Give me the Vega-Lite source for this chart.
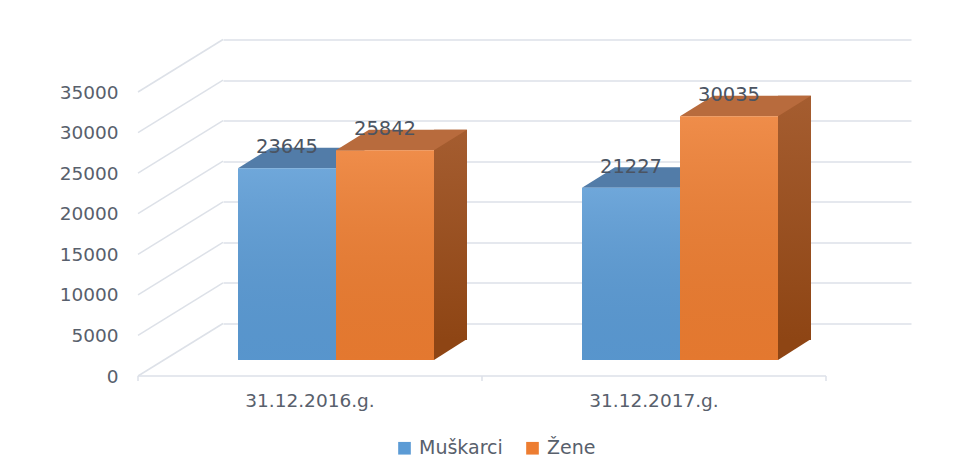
{
  "$schema": "https://vega.github.io/schema/vega-lite/v6.json",
  "width": 688,
  "height": 284,
  "autosize": {"type": "none"},
  "padding": {"left": 223, "top": 39.5, "right": 49, "bottom": 151.5},
  "background": "white",
  "config": {"view": {"stroke": null}, "font": "DejaVu Sans"},
  "datasets": {
    "bars": [
      {"period": "31.12.2016.g.", "spol": "Muškarci", "broj": 23645},
      {"period": "31.12.2016.g.", "spol": "Žene", "broj": 25842},
      {"period": "31.12.2017.g.", "spol": "Muškarci", "broj": 21227},
      {"period": "31.12.2017.g.", "spol": "Žene", "broj": 30035}
    ],
    "grid": [
      {"broj": 0}, {"broj": 5000}, {"broj": 10000}, {"broj": 15000},
      {"broj": 20000}, {"broj": 25000}, {"broj": 30000}, {"broj": 35000}
    ],
    "cats": [{"period": "31.12.2016.g."}, {"period": "31.12.2017.g."}],
    "one": [{"k": 1}]
  },
  "data": {"name": "bars"},
  "layer": [
    {
      "data": {"name": "grid"},
      "mark": {"type": "point", "shape": "M0,0L-1.7,1.05", "size": 10000, "filled": false, "stroke": "#dde1e8", "strokeWidth": 1.5, "opacity": 1},
      "encoding": {
        "x": {
          "datum": "31.12.2016.g.", "type": "nominal", "bandPosition": 0,
          "scale": {"type": "band", "domain": ["31.12.2016.g.", "31.12.2017.g."], "paddingInner": 0, "paddingOuter": 0},
          "axis": {"title": null, "domain": false, "ticks": false, "tickSize": 0, "grid": false, "labelOffset": -85, "labelPadding": 68, "labelFontSize": 18.5, "labelColor": "#58606c", "labelAngle": 0, "labelBaseline": "top", "labelFont": "DejaVu Sans"}
        },
        "y": {
          "field": "broj", "type": "quantitative",
          "scale": {"domain": [0, 35000], "nice": false},
          "axis": {"title": null, "values": [0, 5000, 10000, 15000, 20000, 25000, 30000, 35000], "grid": true, "gridColor": "#dde1e8", "gridWidth": 1.5, "domain": false, "ticks": false, "tickSize": 0, "labelPadding": 105, "labelOffset": 52.5, "labelFontSize": 18.5, "labelColor": "#58606c", "labelFont": "DejaVu Sans", "labelBaseline": "middle", "format": "d"}
        }
      }
    },
    {
      "data": {"name": "one"},
      "mark": {"type": "rule", "color": "#dde1e8", "strokeWidth": 1.5, "xOffset": -85, "x2Offset": -85, "yOffset": 52.5},
      "encoding": {
        "x": {"datum": "31.12.2016.g.", "type": "nominal", "bandPosition": 0},
        "x2": {"datum": "31.12.2017.g.", "bandPosition": 1},
        "y": {"datum": 0, "type": "quantitative"}
      }
    },
    {
      "data": {"name": "cats"},
      "mark": {"type": "rule", "color": "#dde1e8", "strokeWidth": 1.5, "xOffset": -85, "yOffset": 52.5, "y2Offset": 57.5},
      "encoding": {
        "x": {"field": "period", "type": "nominal", "bandPosition": 0},
        "y": {"datum": 0, "type": "quantitative"},
        "y2": {"datum": 0}
      }
    },
    {
      "data": {"name": "one"},
      "mark": {"type": "rule", "color": "#dde1e8", "strokeWidth": 1.5, "xOffset": -85, "yOffset": 52.5, "y2Offset": 57.5},
      "encoding": {
        "x": {"datum": "31.12.2017.g.", "type": "nominal", "bandPosition": 1},
        "y": {"datum": 0, "type": "quantitative"},
        "y2": {"datum": 0}
      }
    },
    {
      "transform": [{"filter": "datum.spol === 'Muškarci'"}],
      "layer": [
        {
          "mark": {"type": "point", "shape": "M-0.98,0L0.98,0L1.64,-0.41L-0.32,-0.41Z", "size": 10000, "filled": true, "opacity": 1, "color": "#527ca8", "strokeWidth": 0, "xOffset": -108, "yOffset": 36.5},
          "encoding": {
            "x": {"field": "period", "type": "nominal"},
            "y": {"field": "broj", "type": "quantitative"}
          }
        },
        {
          "mark": {"type": "bar", "width": 98, "xOffset": -108, "yOffset": 36.5, "y2Offset": 36.5, "opacity": 1},
          "encoding": {
            "x": {"field": "period", "type": "nominal"},
            "y": {"field": "broj", "type": "quantitative"},
            "y2": {"datum": 0},
            "color": {
              "field": "spol", "type": "nominal",
              "scale": {"domain": ["Muškarci", "Žene"], "range": ["#5b9bd5", "#ed7d31"]},
              "legend": {"orient": "none", "legendX": 172, "legendY": 399, "direction": "horizontal", "title": null, "symbolType": "square", "symbolSize": 160, "symbolStrokeWidth": 0, "symbolOpacity": 1, "labelFontSize": 19, "labelColor": "#58606c", "labelFont": "DejaVu Sans", "columnPadding": 20, "labelOffset": 5, "padding": 0}
            }
          }
        },
        {
          "mark": {"type": "bar", "width": 98, "xOffset": -108, "yOffset": 36.5, "y2Offset": 36.5,
            "color": {"gradient": "linear", "x1": 0, "y1": 0, "x2": 0, "y2": 1, "stops": [{"offset": 0, "color": "rgba(255,255,255,0.12)"}, {"offset": 1, "color": "rgba(0,0,0,0.04)"}]}},
          "encoding": {
            "x": {"field": "period", "type": "nominal"},
            "y": {"field": "broj", "type": "quantitative"},
            "y2": {"datum": 0}
          }
        }
      ]
    },
    {
      "transform": [{"filter": "datum.spol === 'Žene'"}],
      "layer": [
        {
          "mark": {"type": "bar", "width": 33, "xOffset": 55.5, "yOffset": 16, "y2Offset": 16.5,
            "color": {"gradient": "linear", "x1": 0, "y1": 0, "x2": 0, "y2": 1, "stops": [{"offset": 0, "color": "#a55d30"}, {"offset": 1, "color": "#8e4514"}]}},
          "encoding": {
            "x": {"field": "period", "type": "nominal"},
            "y": {"field": "broj", "type": "quantitative"},
            "y2": {"datum": 0}
          }
        },
        {
          "mark": {"type": "point", "shape": "M0,0L0,-0.42L0.66,-0.42Z", "size": 10000, "filled": true, "opacity": 1, "color": "#8e4514", "strokeWidth": 0, "xOffset": 39, "yOffset": 36.5},
          "encoding": {
            "x": {"field": "period", "type": "nominal"},
            "y": {"datum": 0, "type": "quantitative"}
          }
        },
        {
          "mark": {"type": "point", "shape": "M-0.98,0L0.98,0L1.64,-0.41L-0.32,-0.41Z", "size": 10000, "filled": true, "opacity": 1, "color": "#b86b3d", "strokeWidth": 0, "xOffset": -10, "yOffset": 36.5},
          "encoding": {
            "x": {"field": "period", "type": "nominal"},
            "y": {"field": "broj", "type": "quantitative"}
          }
        },
        {
          "mark": {"type": "bar", "width": 98, "xOffset": -10, "yOffset": 36.5, "y2Offset": 36.5, "opacity": 1},
          "encoding": {
            "x": {"field": "period", "type": "nominal"},
            "y": {"field": "broj", "type": "quantitative"},
            "y2": {"datum": 0},
            "color": {
              "field": "spol", "type": "nominal",
              "scale": {"domain": ["Muškarci", "Žene"], "range": ["#5b9bd5", "#ed7d31"]},
              "legend": {"orient": "none", "legendX": 172, "legendY": 399, "direction": "horizontal", "title": null, "symbolType": "square", "symbolSize": 160, "symbolStrokeWidth": 0, "symbolOpacity": 1, "labelFontSize": 19, "labelColor": "#58606c", "labelFont": "DejaVu Sans", "columnPadding": 20, "labelOffset": 5, "padding": 0}
            }
          }
        },
        {
          "mark": {"type": "bar", "width": 98, "xOffset": -10, "yOffset": 36.5, "y2Offset": 36.5,
            "color": {"gradient": "linear", "x1": 0, "y1": 0, "x2": 0, "y2": 1, "stops": [{"offset": 0, "color": "rgba(255,255,255,0.12)"}, {"offset": 1, "color": "rgba(0,0,0,0.04)"}]}},
          "encoding": {
            "x": {"field": "period", "type": "nominal"},
            "y": {"field": "broj", "type": "quantitative"},
            "y2": {"datum": 0}
          }
        }
      ]
    },
    {
      "transform": [{"filter": "datum.spol === 'Muškarci'"}],
      "mark": {"type": "text", "xOffset": -108, "yOffset": 21.5, "baseline": "alphabetic", "align": "center", "fontSize": 19.5, "color": "#4b5462", "font": "DejaVu Sans"},
      "encoding": {
        "x": {"field": "period", "type": "nominal"},
        "y": {"field": "broj", "type": "quantitative"},
        "text": {"field": "broj", "type": "quantitative", "format": "d"}
      }
    },
    {
      "transform": [{"filter": "datum.spol === 'Žene'"}],
      "mark": {"type": "text", "xOffset": -10, "yOffset": 21.5, "baseline": "alphabetic", "align": "center", "fontSize": 19.5, "color": "#4b5462", "font": "DejaVu Sans"},
      "encoding": {
        "x": {"field": "period", "type": "nominal"},
        "y": {"field": "broj", "type": "quantitative"},
        "text": {"field": "broj", "type": "quantitative", "format": "d"}
      }
    }
  ]
}
